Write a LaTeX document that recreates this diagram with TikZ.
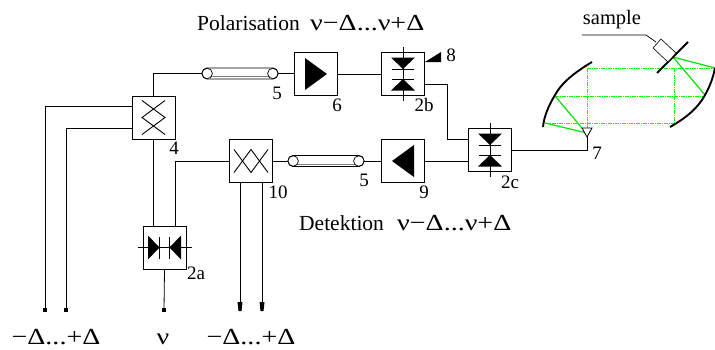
\documentclass[tikz,border=0pt]{standalone}
\usepackage{fontspec}
\setmainfont{Liberation Serif}
\newfontfamily\symfont[FakeStretch=1.22]{Liberation Serif}
\usetikzlibrary{calc}
\tikzset{
  unitbox/.style={draw,fill=white,line width=0.8pt,minimum size=43pt,inner sep=0pt},
  fibre/.style={draw,fill=white,line width=0.7pt,rounded corners=5pt,minimum width=76pt,minimum height=11pt,inner sep=0pt},
  fibrecap/.style={draw,line width=0.7pt,circle,minimum size=10.5pt,inner sep=0pt},
  wire/.style={line width=0.8pt},
  beam/.style={green,line width=1pt,dash pattern=on 4pt off 1pt on 1pt off 1pt},
  ray/.style={green!90!black,line width=1.2pt},
  mirror/.style={line width=1.9pt},
  numlabel/.style={font=\fontsize{19}{19}\selectfont,inner sep=0pt},
  textlabel/.style={font=\fontsize{21.5}{22}\selectfont,inner sep=0pt,anchor=base west},
  biglabel/.style={font=\fontsize{23}{23}\selectfont\symfont,inner sep=0pt,anchor=base},
  tipbox/.style={fill,inner sep=0pt,minimum size=4pt},
  diodes/.pic={
    \draw[line width=0.7pt] (0,-27)--(0,27);
    \fill (-12,-16.5)--(12,-16.5)--(0,-5)--cycle;
    \fill (-12,16.5)--(12,16.5)--(0,5)--cycle;
    \draw[line width=0.8pt] (-11,-5)--(11,-5) (-11,5)--(11,5);
  },
  crossing/.pic={
    \draw[line width=0.9pt] (-11.5,-17)--(11.5,0)--(-11.5,17) (11.5,-17)--(-11.5,0)--(11.5,17);
  }
}
\begin{document}
\begin{tikzpicture}[x=1pt,y=-1pt]
\useasboundingbox (0,0) rectangle (715,349);
% boxes
\node[unitbox] (coupa) at (153.5,117.5) {};
\node[unitbox] (coupb) at (251,161) {};
\node[unitbox] (mixa) at (164.5,247.5) {};
\node[unitbox] (ampa) at (316,74) {};
\node[unitbox] (mixb) at (403,74) {};
\node[unitbox] (ampb) at (403,161) {};
\node[unitbox] (mixc) at (490,150) {};
\node[fibre] (fibrea) at (240,73.5) {};
\node[fibre] (fibreb) at (326,161) {};
\coordinate (horn) at (587,128);
\coordinate (enda) at (45,310);
\coordinate (endb) at (66,310);
\coordinate (endc) at (164,310);
\coordinate (endd) at (240,310);
\coordinate (ende) at (262,310);
% wires
\draw[wire] (coupa.north) |- (fibrea.west);
\draw[wire] (fibrea.east)--(ampa.west|-fibrea.east);
\draw[wire] (ampa.east)--(mixb.west);
\draw[wire] ($(mixb.east)+(0,10)$)-|(447,139)--(mixc.west|-0,139);
\draw[wire] (coupa.south)--(coupa.south|-mixa.north);
\draw[wire] (mixa.north-|175,0)|-(coupb.west);
\draw[wire] (coupb.east)--(fibreb.west);
\draw[wire] (fibreb.east)--(ampb.west);
\draw[wire] (ampb.east)--(ampb.east-|mixc.west);
\draw[wire] (mixc.east)-|(horn);
\draw[wire] ($(coupa.west)+(0,-11.5)$)-|(enda);
\draw[wire] ($(coupa.west)+(0,10.5)$)-|(endb);
\draw[wire] (mixa.south)--(endc);
\draw[wire] (coupb.south-|endd)--(endd);
\draw[wire] (coupb.south-|ende)--(ende);
\node[tipbox] at (enda) {};
\node[tipbox] at (endb) {};
\node[tipbox] at (endc) {};
\fill (237.5,302)--(242.5,302)--(241.5,311)--(238.5,311)--cycle;
\fill (259.5,302)--(264.5,302)--(263.5,311)--(260.5,311)--cycle;
% fibres
\draw[gray,line width=0.6pt] ($(fibrea.west)+(8,3)$)--($(fibrea.east)+(-8,3)$);
\draw[gray,line width=0.6pt] ($(fibreb.west)+(8,3)$)--($(fibreb.east)+(-8,3)$);
\node[fibrecap] at ($(fibrea.west)+(5.5,0)$) {};
\node[fibrecap] at ($(fibrea.east)+(-5.5,0)$) {};
\node[fibrecap] at ($(fibreb.west)+(5.5,0)$) {};
\node[fibrecap] at ($(fibreb.east)+(-5.5,0)$) {};
% symbols
\pic at (coupa) {crossing};
\pic[rotate=90] at (coupb) {crossing};
\pic[rotate=90] at (mixa) {diodes};
\pic at (mixb) {diodes};
\pic at (mixc) {diodes};
\fill (305,58)--(305,90)--(327,74)--cycle;
\fill (414,145)--(414,177)--(392,161)--cycle;
\fill (425,62)--(441,52)--(441,62)--cycle;
% beams
\draw[beam] (587,68)--(715,68);
\draw[beam] (555,96)--(705,96);
\draw[beam] (545,123)--(674,123);
\draw[beam] (587,68)--(587,128);
\draw[beam] (674,68)--(674,123);
\draw[ray] (587,134)--(555,96);
\draw[ray] (587,133)--(545,123);
\draw[ray] (673,57)--(715,68);
\draw[ray] (673,57)--(705,95);
% horn
\draw[wire,fill=white] (582,128)--(592,128)--(587,137)--cycle;
% mirrors
\draw[mirror] (592,62) .. controls (572,74) and (561,84) .. (555,95) .. controls (549,105) and (544,116) .. (543,127);
\draw[mirror] (670,127) .. controls (686,118) and (698,108) .. (705,95) .. controls (710,86) and (713,78) .. (715,68);
% sample
\draw[mirror] (657,73)--(688,42);
\draw[line width=0.6pt,fill=white] (653,48)--(661,39)--(676,53)--(668,62)--cycle;
\coordinate (samplefoot) at (582,35);
\draw[line width=0.7pt] (samplefoot)--(646,35)--(656,42);
% labels
\node[font=\fontsize{20.5}{21}\selectfont,inner sep=0pt,anchor=base] (samplelabel) at (612,24) {sample};
\node[textlabel] (polar) at (197,30) {Polarisation};
\node[biglabel,anchor=base west] (polarnu) at (310,30) {ν−Δ...ν+Δ};
\node[textlabel] (detect) at (299,230) {Detektion};
\node[biglabel,anchor=base west] (detectnu) at (397,230) {ν−Δ...ν+Δ};
\node[biglabel] (lefta) at (56,344) {−Δ...+Δ};
\node[biglabel] (nu) at (163,344) {ν};
\node[biglabel] (leftb) at (251,344) {−Δ...+Δ};
\node[numlabel] (numfivea) at (277,93) {5};
\node[numlabel] (numsix) at (337,105) {6};
\node[numlabel] (numtwob) at (424,105) {2b};
\node[numlabel] (numeight) at (451,55) {8};
\node[numlabel] (numfiveb) at (364,180) {5};
\node[numlabel] (numnine) at (424,192) {9};
\node[numlabel] (numtwoc) at (510,182) {2c};
\node[numlabel] (numseven) at (597,153) {7};
\node[numlabel] (numfour) at (174,148) {4};
\node[numlabel] (numten) at (278,192) {10};
\node[numlabel] (numtwoa) at (196,273) {2a};
\end{tikzpicture}
\end{document}
